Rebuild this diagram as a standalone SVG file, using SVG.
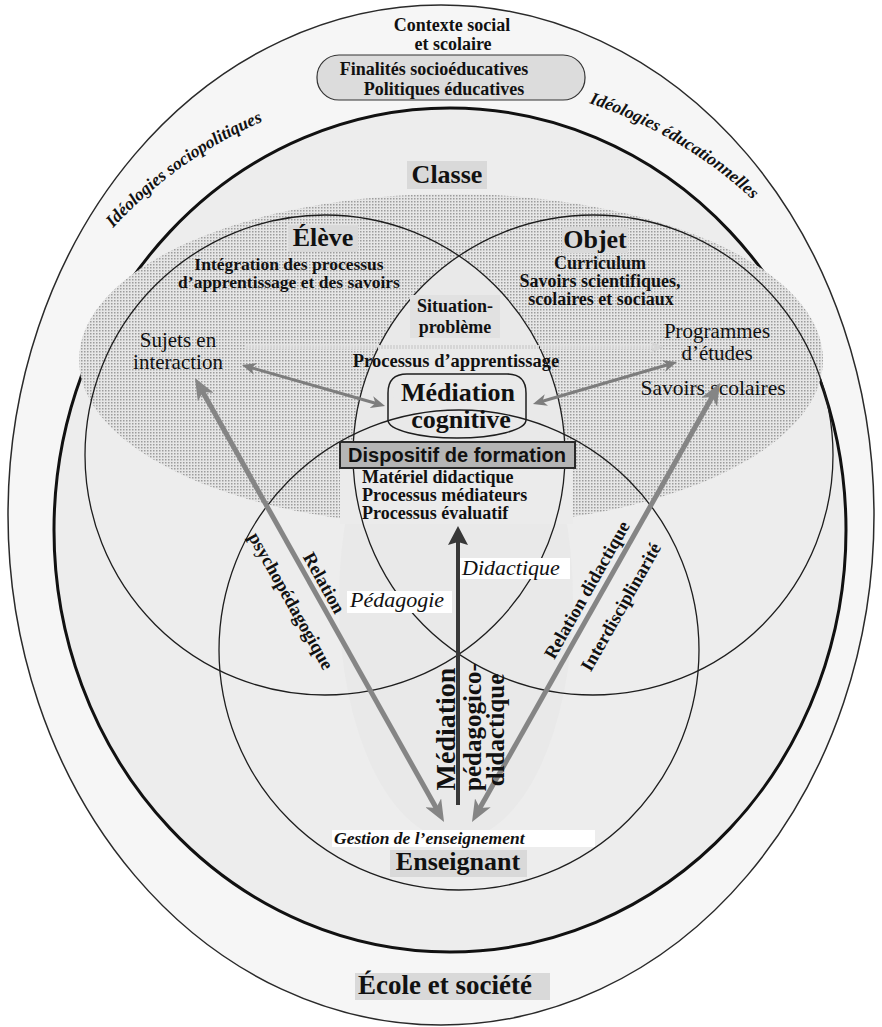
<svg xmlns="http://www.w3.org/2000/svg" width="882" height="1027" viewBox="0 0 882 1027">
<style>
.t{font-family:"Liberation Serif","Times New Roman",serif;fill:#111}
.b{font-weight:bold}
.i{font-style:italic}
.c{text-anchor:middle}
.ring{fill:none;stroke:#1e1e1e;stroke-width:1.3}
.tag{fill:#d9d9d9}
.white{fill:#ffffff}
.light{fill:#e9e9e9}
</style>
<defs>
  <pattern id="stipple" width="3" height="3" patternUnits="userSpaceOnUse">
    <rect width="3" height="3" fill="#e6e6e6"/>
    <rect width="1.5" height="1.5" fill="#9c9c9c"/>
  </pattern>
  <clipPath id="eleveClip"><circle cx="325" cy="455" r="240"/></clipPath>
  <marker id="headThin" markerUnits="userSpaceOnUse" markerWidth="14" markerHeight="12" refX="5" refY="6" orient="auto-start-reverse">
    <path d="M0,0 L14,6 L0,12 L4,6 z" fill="#7d7d7d"/>
  </marker>
  <marker id="headFaint" markerUnits="userSpaceOnUse" markerWidth="14" markerHeight="12" refX="5" refY="6" orient="auto-start-reverse">
    <path d="M0,0 L14,6 L0,12 L4,6 z" fill="#d6d6d6"/>
  </marker>
  <marker id="headWide" markerUnits="userSpaceOnUse" markerWidth="22" markerHeight="18" refX="8" refY="9" orient="auto-start-reverse">
    <path d="M0,0 L22,9 L0,18 L6,9 z" fill="#858585"/>
  </marker>
  <marker id="headDark" markerUnits="userSpaceOnUse" markerWidth="20" markerHeight="20" refX="6" refY="10" orient="auto">
    <path d="M0,0 L19,10 L0,20 L3,10 z" fill="#383838"/>
  </marker>
  <path id="arcLeft" d="M 113 228 A 440 440 0 0 1 310 104"/>
  <path id="arcRight" d="M 589 103 A 445 445 0 0 1 795 245"/>
</defs>

<!-- background shells -->
<g id="ecole-societe">
  <ellipse cx="441" cy="515" rx="433" ry="510" fill="#f6f6f6" stroke="#2a2a2a" stroke-width="1.5"/>
</g>
<g id="classe-shell">
  <ellipse cx="450" cy="530" rx="396" ry="422" fill="#ededed" stroke="#111" stroke-width="3"/>
</g>

<!-- shaded band and light central zone -->
<g id="zones">
  <ellipse cx="451" cy="360" rx="372" ry="166" fill="url(#stipple)"/>
  <circle cx="593" cy="455" r="240" class="light" clip-path="url(#eleveClip)"/>
  <ellipse cx="456" cy="600" rx="117" ry="240" class="light"/>
  <rect x="340" y="466" width="233" height="58" fill="#ebebeb"/>
</g>

<!-- the three circles -->
<g id="eleve-circle"><circle cx="325" cy="455" r="240" class="ring"/></g>
<g id="objet-circle"><circle cx="593" cy="455" r="240" class="ring"/></g>
<g id="enseignant-circle"><circle cx="459" cy="650" r="240" class="ring"/></g>

<!-- top context -->
<g id="contexte">
  <text class="t b c" x="452" y="31" font-size="18">Contexte social</text>
  <text class="t b c" x="453" y="50" font-size="18">et scolaire</text>
</g>
<g id="finalites">
  <rect x="317" y="55" width="268" height="45" rx="22" fill="#dcdcdc" stroke="#333" stroke-width="1.2"/>
  <text class="t b c" x="434" y="75" font-size="18">Finalités socioéducatives</text>
  <text class="t b c" x="444" y="95" font-size="18">Politiques éducatives</text>
</g>
<g id="ideologies">
  <text class="t b i" font-size="17.5"><textPath href="#arcLeft">Idéologies sociopolitiques</textPath></text>
  <text class="t b i" font-size="17.5"><textPath href="#arcRight">Idéologies éducationnelles</textPath></text>
</g>

<g id="classe">
  <rect x="407" y="161" width="80" height="28" class="tag"/>
  <text class="t b c" x="447" y="183" font-size="26">Classe</text>
</g>

<g id="eleve">
  <rect x="288" y="225" width="70" height="27" class="tag"/>
  <text class="t b c" x="323" y="246" font-size="26">Élève</text>
  <text class="t b c" x="289" y="270" font-size="17.5">Intégration des processus</text>
  <text class="t b c" x="289" y="288" font-size="17.5">d’apprentissage et des savoirs</text>
  <text class="t c" x="178" y="347" font-size="21">Sujets en</text>
  <text class="t c" x="178" y="369" font-size="21">interaction</text>
</g>

<g id="objet">
  <rect x="562" y="227" width="66" height="26" class="tag"/>
  <text class="t b c" x="595" y="248" font-size="26">Objet</text>
  <text class="t b c" x="600" y="269" font-size="18">Curriculum</text>
  <text class="t b c" x="600" y="287" font-size="18">Savoirs scientifiques,</text>
  <text class="t b c" x="601" y="305" font-size="18">scolaires et sociaux</text>
  <text class="t c" x="717" y="338" font-size="21">Programmes</text>
  <text class="t c" x="717" y="360" font-size="21">d’études</text>
  <text class="t c" x="713" y="395" font-size="21.5">Savoirs scolaires</text>
</g>

<g id="situation">
  <rect x="410" y="295" width="90" height="43" fill="#e1e1e1"/>
  <text class="t b c" x="455" y="312" font-size="18">Situation-</text>
  <text class="t b c" x="455" y="333" font-size="18">problème</text>
</g>

<!-- connectors -->
<g id="connectors" fill="none">
  <line x1="246" y1="347" x2="655" y2="347" stroke="#d6d6d6" stroke-width="4" stroke-dasharray="2 1" marker-end="url(#headFaint)"/>
  <line x1="250.6" y1="367.5" x2="376.4" y2="403.5" stroke="#7d7d7d" stroke-width="3" marker-start="url(#headThin)" marker-end="url(#headThin)"/>
  <line x1="541.6" y1="401.5" x2="668.4" y2="364.5" stroke="#7d7d7d" stroke-width="3" marker-start="url(#headThin)" marker-end="url(#headThin)"/>
  <line x1="201.8" y1="390.2" x2="437.2" y2="809.8" stroke="#858585" stroke-width="5" marker-start="url(#headWide)" marker-end="url(#headWide)"/>
  <line x1="478.9" y1="809.8" x2="713.1" y2="395.2" stroke="#858585" stroke-width="5" marker-start="url(#headWide)" marker-end="url(#headWide)"/>
  <line x1="458" y1="805" x2="458" y2="539" stroke="#383838" stroke-width="4" marker-end="url(#headDark)"/>
</g>

<g id="processus-apprentissage">
  <text class="t b c" x="456" y="367" font-size="18.5">Processus d’apprentissage</text>
</g>

<g id="mediation-cognitive">
  <path d="M 388 420 L 388 393 Q 388 374 407 374 L 507 374 Q 526 374 526 393 L 526 420 A 69 18 0 0 1 388 420 Z" fill="none" stroke="#1e1e1e" stroke-width="1.5"/>
  <text class="t b c" x="458" y="401" font-size="26">Médiation</text>
  <text class="t b c" x="461" y="428" font-size="26">cognitive</text>
</g>

<g id="dispositif">
  <rect x="340" y="442" width="235" height="26" fill="#b5b5b5" stroke="#2a2a2a" stroke-width="2"/>
  <text x="457" y="462" font-family="'Liberation Sans', Arial, sans-serif" font-weight="bold" font-size="20" text-anchor="middle" fill="#111">Dispositif de formation</text>
  <text class="t b" x="362" y="483" font-size="18">Matériel didactique</text>
  <text class="t b" x="362" y="501" font-size="18">Processus médiateurs</text>
  <text class="t b" x="362" y="519" font-size="18">Processus évaluatif</text>
</g>

<g id="didactique">
  <rect x="460" y="558" width="110" height="21" class="white"/>
  <text class="t i" x="462" y="575" font-size="22">Didactique</text>
</g>
<g id="pedagogie">
  <rect x="347" y="591" width="105" height="22" class="white"/>
  <text class="t i" x="350" y="607" font-size="22">Pédagogie</text>
</g>

<g id="relation-psychopedagogique">
  <text class="t b c" transform="translate(324 583) rotate(60.7)" y="6" font-size="18.5">Relation</text>
  <text class="t b c" transform="translate(291 601) rotate(60.7)" y="6" font-size="18.5">psychopédagogique</text>
</g>
<g id="relation-didactique">
  <text class="t b c" transform="translate(587 590) rotate(-60.5)" y="6" font-size="18.5">Relation didactique</text>
  <text class="t b c" transform="translate(621 607) rotate(-60.5)" y="6" font-size="18.5">Interdisciplinarité</text>
</g>

<g id="mediation-pedagogico-didactique">
  <text class="t b c" transform="translate(455 729) rotate(-90)" font-size="28">Médiation</text>
  <text class="t b c" transform="translate(481 727) rotate(-90)" font-size="25">pédagogico-</text>
  <text class="t b c" transform="translate(504 730) rotate(-90)" font-size="25">didactique</text>
</g>

<g id="enseignant">
  <rect x="332" y="830" width="263" height="17" class="white"/>
  <text class="t b i" x="334" y="844" font-size="17.5">Gestion de l’enseignement</text>
  <rect x="390" y="850" width="137" height="27" class="tag"/>
  <text class="t b c" x="458" y="870" font-size="26">Enseignant</text>
</g>

<g id="ecole">
  <rect x="355" y="973" width="195" height="27" class="tag"/>
  <text class="t b c" x="445" y="994" font-size="27">École et société</text>
</g>
</svg>
